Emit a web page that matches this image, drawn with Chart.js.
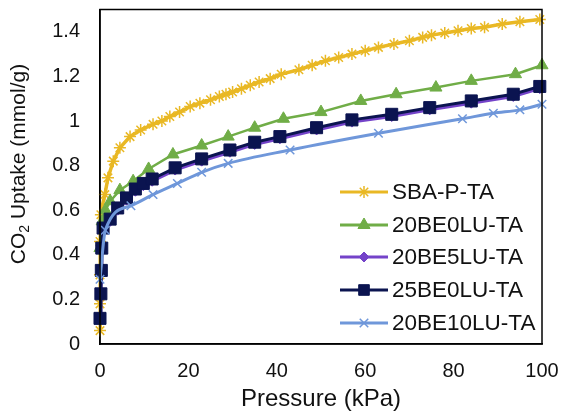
<!DOCTYPE html>
<html>
<head>
<meta charset="utf-8">
<script src="https://cdn.jsdelivr.net/npm/chart.js@4/dist/chart.umd.min.js"></script>
<style>
  html, body { margin: 0; padding: 0; background: #fff; }
  #wrap { width: 564px; height: 414px; }
</style>
</head>
<body>
<div id="wrap"><canvas id="co2-chart" width="564" height="414"></canvas></div>
<script>
// isotherm data (x = kPa, y = mmol/g)
var sbaX = [0, 0, 0, 0, 0.2, 1.1, 1.8, 3, 4.5, 6.8, 9.2, 12, 14, 15.8, 18, 20.4, 22.6, 25, 27, 28.5, 30, 32, 34, 36, 38.5, 41, 45, 48, 51, 54, 57, 60, 63, 66.5, 70, 73, 75, 78, 81, 84, 87, 91, 95, 99.5];
var sbaY = [0.06, 0.18, 0.31, 0.46, 0.58, 0.67, 0.745, 0.82, 0.88, 0.93, 0.96, 0.985, 1.0, 1.02, 1.04, 1.065, 1.08, 1.095, 1.11, 1.12, 1.13, 1.145, 1.16, 1.175, 1.19, 1.21, 1.23, 1.25, 1.27, 1.285, 1.3, 1.315, 1.33, 1.345, 1.36, 1.375, 1.385, 1.395, 1.405, 1.415, 1.42, 1.435, 1.445, 1.455];

var be0X = [0, 0.5, 1.2, 2.3, 4.5, 7.5, 11, 16.5, 23, 29, 35, 41.5, 50, 59, 67, 76, 84, 94, 100];
var be0Y = [0.43, 0.55, 0.6, 0.64, 0.69, 0.73, 0.785, 0.85, 0.89, 0.93, 0.97, 1.01, 1.04, 1.09, 1.12, 1.15, 1.18, 1.21, 1.25];

var be5X = [0, 0.2, 0.3, 0.4, 0.7, 2.3, 4, 6, 8, 9.8, 11.8, 17, 23, 29.4, 35, 40.7, 49, 57, 66, 74.6, 84, 93.5, 99.5];
var be5Y = [0.11, 0.215, 0.32, 0.42, 0.51, 0.55, 0.6, 0.645, 0.685, 0.71, 0.73, 0.78, 0.82, 0.86, 0.895, 0.92, 0.96, 0.995, 1.02, 1.05, 1.08, 1.11, 1.145];

var be25X = [0, 0.2, 0.3, 0.4, 0.7, 2.3, 4, 6, 8, 9.8, 11.8, 17, 23, 29.4, 35, 40.7, 49, 57, 66, 74.6, 84, 93.5, 99.5];
var be25Y = [0.115, 0.225, 0.33, 0.43, 0.52, 0.56, 0.61, 0.655, 0.695, 0.72, 0.74, 0.79, 0.83, 0.87, 0.905, 0.93, 0.97, 1.005, 1.03, 1.06, 1.09, 1.12, 1.155];

var be10X = [0, 1.2, 7, 12, 17.5, 23, 29, 43, 63, 82, 89, 95, 100];
var be10Y = [0.29, 0.51, 0.62, 0.67, 0.72, 0.77, 0.81, 0.87, 0.945, 1.01, 1.035, 1.05, 1.075];

var seriesNames = ["SBA-P-TA", "20BE0LU-TA", "20BE5LU-TA", "25BE0LU-TA", "20BE10LU-TA"];
var xTicks = [0, 20, 40, 60, 80, 100];
var yTicks = [0, 0.2, 0.4, 0.6, 0.8, 1, 1.2, 1.4];

var FONT = "'Liberation Sans', Arial, sans-serif";

function pts(xs, ys) {
    return xs.map(function (x, i) { return { x: x, y: ys[i] }; });
}

function makeSet(i, xs, ys, color, style, radius, lw, order) {
    return {
        label: seriesNames[i],
        data: pts(xs, ys),
        borderColor: color,
        backgroundColor: color,
        borderWidth: lw,
        pointStyle: style,
        pointRadius: radius,
        pointBorderWidth: (style == 'star' || style == 'crossRot') ? 1.5 : 1,
        pointBorderColor: color,
        pointBackgroundColor: color,
        tension: 0,
        clip: false,
        order: order
    };
}

var datasets = [
    makeSet(0, sbaX, sbaY, '#E9B824', 'star', 6, 3.5, 4),
    makeSet(1, be0X, be0Y, '#70AD47', 'triangle', 7, 2.5, 3),
    makeSet(2, be5X, be5Y, '#7443C9', 'rectRot', 5, 3, 2),
    makeSet(3, be25X, be25Y, '#0B1450', 'rect', 8.5, 3, 1),
    makeSet(4, be10X, be10Y, '#6F97DA', 'crossRot', 6, 3, 0)
];
datasets[4].cubicInterpolationMode = 'monotone';

// no extra room for the edge labels, the plot box is fixed by hand
function noPad(s) {
    s.paddingTop = 0; s.paddingBottom = 0; s.paddingLeft = 0; s.paddingRight = 0;
}

// plot frame, axis titles and the boxed-in legend
var decorations = {
    id: 'decorations',
    afterDatasetsDraw: function (chart) {
        var ctx = chart.ctx;
        var a = chart.chartArea;
        ctx.save();
        ctx.strokeStyle = '#000';
        ctx.lineWidth = 1.5;
        ctx.strokeRect(a.left, a.top, a.right - a.left, a.bottom - a.top);

        // legend
        var ys = [192, 225, 257, 290, 323];
        chart.data.datasets.forEach(function (ds, i) {
            var y = ys[i];
            ctx.strokeStyle = ds.borderColor;
            ctx.lineWidth = 3;
            ctx.beginPath();
            ctx.moveTo(340, y);
            ctx.lineTo(388, y);
            ctx.stroke();
            ctx.fillStyle = ds.borderColor;
            ctx.strokeStyle = ds.borderColor;
            ctx.lineWidth = ds.pointBorderWidth;
            Chart.helpers.drawPoint(ctx, {
                pointStyle: ds.pointStyle,
                radius: ds.pointStyle == 'rect' ? 7.5 : ds.pointRadius,
                rotation: 0,
                borderWidth: ds.pointBorderWidth
            }, 364, y);
            ctx.fillStyle = '#111';
            ctx.font = '22.5px ' + FONT;
            ctx.textAlign = 'left';
            ctx.textBaseline = 'middle';
            ctx.fillText(ds.label, 392, y + 1);
        });

        // x title
        ctx.fillStyle = '#111';
        ctx.font = '24px ' + FONT;
        ctx.textAlign = 'center';
        ctx.textBaseline = 'middle';
        ctx.fillText('Pressure (kPa)', (a.left + a.right) / 2, 399);

        // y title with subscript
        ctx.translate(19, 164);
        ctx.rotate(-Math.PI / 2);
        ctx.textAlign = 'left';
        ctx.textBaseline = 'middle';
        var big = '21px ' + FONT, small = '14px ' + FONT;
        ctx.font = big;
        var w1 = ctx.measureText('CO').width;
        var w3 = ctx.measureText(' Uptake (mmol/g)').width;
        ctx.font = small;
        var w2 = ctx.measureText('2').width;
        var x0 = -(w1 + w2 + w3) / 2;
        ctx.font = big;
        ctx.fillText('CO', x0, 0);
        ctx.font = small;
        ctx.fillText('2', x0 + w1, 6);
        ctx.font = big;
        ctx.fillText(' Uptake (mmol/g)', x0 + w1 + w2, 0);
        ctx.restore();
    }
};

new Chart(document.getElementById('co2-chart'), {
    type: 'line',
    data: { datasets: datasets },
    plugins: [decorations],
    options: {
        responsive: false,
        animation: false,
        layout: { padding: { left: 0, right: 22, top: 7, bottom: 0 } },
        plugins: { legend: { display: false }, tooltip: { enabled: false } },
        scales: {
            x: {
                type: 'linear',
                min: 0,
                max: 100,
                afterFit: function (s) { s.height = 70; noPad(s); },
                afterBuildTicks: function (s) { s.ticks = xTicks.map(function (v) { return { value: v }; }); },
                grid: { display: false, drawTicks: false },
                border: { display: true, color: '#000', width: 1.5 },
                ticks: { color: '#111', padding: 15, font: { family: FONT, size: 20 }, maxRotation: 0 }
            },
            y: {
                type: 'linear',
                min: 0,
                max: 1.5,
                afterFit: function (s) { s.width = 100; noPad(s); },
                afterBuildTicks: function (s) { s.ticks = yTicks.map(function (v) { return { value: v }; }); },
                grid: { display: false, drawTicks: false },
                border: { display: true, color: '#000', width: 1.5 },
                ticks: {
                    color: '#111',
                    padding: 20,
                    font: { family: FONT, size: 20 },
                    callback: function (v) { return String(Math.round(v * 10) / 10); }
                }
            }
        }
    }
});
</script>
</body>
</html>
